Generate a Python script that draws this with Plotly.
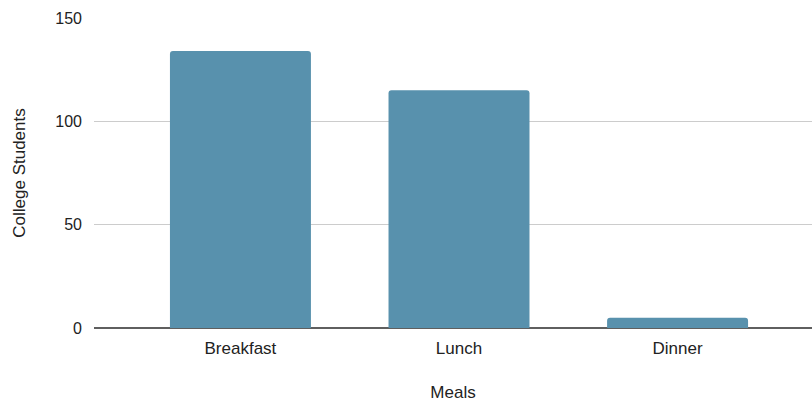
import plotly.graph_objects as go

meals = ["Breakfast", "Lunch", "Dinner"]
students = [134, 115, 5]
y_ticks = [0, 50, 100, 150]

fig = go.Figure(go.Bar(
    x=meals, y=students,
    marker=dict(color="#5891ad", line=dict(width=0)),
    width=0.645,
))

fig.update_layout(
    width=812, height=402,
    margin=dict(l=94, r=0, t=18, b=74),
    paper_bgcolor="white", plot_bgcolor="white",
    font=dict(family="Liberation Sans, Arial, sans-serif", size=17, color="#222222"),
    barcornerradius=3,
    showlegend=False,
    xaxis=dict(
        range=[-0.67, 2.615], automargin=False,
        showgrid=False, showline=False, zeroline=False,
        ticks="", tickfont=dict(size=17, color="#222222"),
        ticklabelstandoff=8,
        title=dict(text="Meals", font=dict(size=17, color="#222222"), standoff=34),
    ),
    yaxis=dict(
        range=[0, 150], tickvals=y_ticks, automargin=False,
        showgrid=True, gridcolor="#cccccc", gridwidth=1,
        zeroline=True, zerolinecolor="#5f5f5f", zerolinewidth=1.5,
        showline=False, ticks="", ticklabelstandoff=11,
        tickfont=dict(size=16, color="#222222"),
        title=dict(text="College Students", font=dict(size=17, color="#222222"), standoff=25),
    ),
)

fig.write_html("out.html")
